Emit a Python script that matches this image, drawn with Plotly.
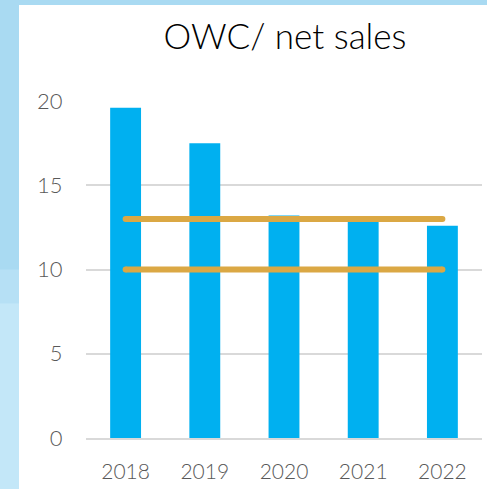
import plotly.graph_objects as go

categories = ["2018", "2019", "2020", "2021", "2022"]
owc_values = [19.6, 17.5, 13.2, 12.9, 12.6]
upper_target = [13, 13]
lower_target = [10, 10]
target_x = ["2018", "2022"]
y_ticks = [0, 5, 10, 15, 20]

BAR = "#00B0F0"
GOLD = "#DBA844"
FONT = "Lato"

fig = go.Figure()
fig.add_trace(go.Bar(x=categories, y=owc_values, marker_color=BAR,
                     marker_line_width=0, width=0.39, showlegend=False))
for ys in (upper_target, lower_target):
    fig.add_trace(go.Scatter(x=target_x, y=ys, mode="lines+markers",
                             line=dict(color=GOLD, width=6),
                             marker=dict(color=GOLD, size=6),
                             showlegend=False, hoverinfo="skip"))

shapes = [
    dict(type="rect", xref="paper", yref="paper", x0=-0.25, x1=-0.1692, y0=0.5, y1=1.35,
         fillcolor="#A9DAF2", line_width=0, layer="below"),
    dict(type="rect", xref="paper", yref="paper", x0=-0.25, x1=-0.1692, y0=0.4, y1=0.5,
         fillcolor="#B6E0F5", line_width=0, layer="below"),
    dict(type="rect", xref="paper", yref="paper", x0=-0.25, x1=-0.1692, y0=-0.2, y1=0.4,
         fillcolor="#C3E7F8", line_width=0, layer="below"),
    dict(type="rect", xref="paper", yref="paper", x0=-0.1692, x1=1.03, y0=-0.2, y1=1.2849,
         fillcolor="white", line_width=0, layer="below"),
]

fig.update_layout(
    width=487, height=489, autosize=False,
    margin=dict(l=86, r=5, t=101, b=51),
    paper_bgcolor="#A9DAF2", plot_bgcolor="white",
    shapes=shapes,
    title=dict(text="OWC/ net sales", x=285/487, xanchor="center",
               y=1 - 37/489, yanchor="middle",
               font=dict(family=FONT, size=35, color="black", weight=300)),
    font=dict(family=FONT, color="#595959"),
    bargap=0.61,
)
fig.update_xaxes(type="category", showgrid=False, showline=True, linecolor="#D9D9D9",
                 linewidth=1.5, ticks="outside", ticklen=14, tickcolor="rgba(0,0,0,0)",
                 tickfont=dict(family=FONT, size=21, color="#595959", weight=300))
fig.update_yaxes(range=[0, 20], tickvals=y_ticks, showgrid=True, gridcolor="#D9D9D9",
                 gridwidth=1.5, zeroline=False, showline=False, ticks="outside",
                 ticklen=18, tickcolor="rgba(0,0,0,0)",
                 tickfont=dict(family=FONT, size=22, color="#595959", weight=300))

fig.write_html("out.html", config={"displayModeBar": False},
               post_script="document.body.style.margin='0';document.body.style.overflow='hidden';")
